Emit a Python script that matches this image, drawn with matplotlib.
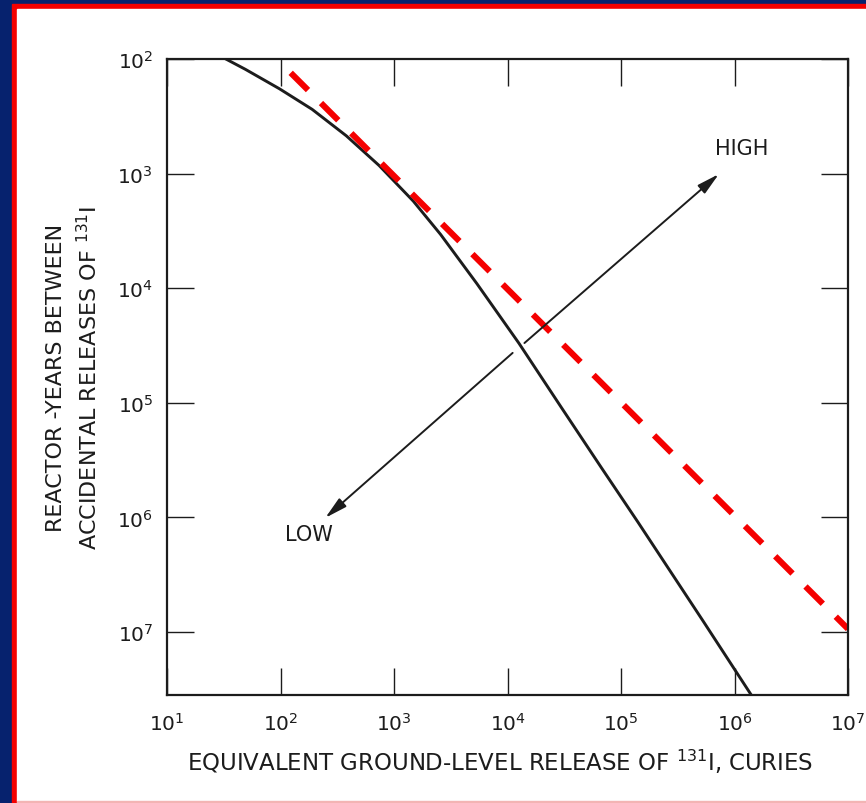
import matplotlib
matplotlib.use("Agg")
import matplotlib.pyplot as plt
from matplotlib.patches import Rectangle
from matplotlib.ticker import NullLocator

# frequency curve (curies released, reactor-years between releases)
release_ci = [33, 49, 98, 190, 380, 740, 1480, 2570, 5370, 12600, 30200,
              67600, 141000, 525000, 1450000]
reactor_years = [100, 123, 182, 275, 468, 851, 1740, 3390, 9120, 30200, 112000,
                 372000, 1100000, 7940000, 37200000]

# red dashed overlay line (end points)
dashed_ci = [123, 1.0e7]
dashed_years = [132, 9.4e6]

# LOW / HIGH arrows: tail and tip
low_tail = (11100, 36700)
low_tip = (248, 1.01e6)
high_tail = (14100, 30100)
high_tip = (728000, 1010)

xticks = [1e1, 1e2, 1e3, 1e4, 1e5, 1e6, 1e7]
yticks = [1e2, 1e3, 1e4, 1e5, 1e6, 1e7]

W, H = 866, 804
ink = "#1c1c1c"

fig = plt.figure(figsize=(W / 100, H / 100), dpi=100, facecolor="#06226e")

# slide frame: red border, white page
fig.patches.append(Rectangle((12 / W, 0), (W - 12) / W, (H - 5) / H,
                             transform=fig.transFigure, color="#f40000", zorder=-3))
fig.patches.append(Rectangle((17 / W, 2 / H), (W - 17) / W, (802 - 10) / H,
                             transform=fig.transFigure, color="white", zorder=-2))
fig.patches.append(Rectangle((17 / W, 0), (W - 17) / W, 2 / H,
                             transform=fig.transFigure, color="#f3b4b4", zorder=-2))

ax = fig.add_axes([167 / W, 1 - 696 / H, (848 - 167) / W, (696 - 60) / H])
ax.set_facecolor("none")
ax.set_xscale("log")
ax.set_yscale("log")
ax.set_xlim(1e1, 1e7)
ax.set_ylim(10 ** 7.55, 1e2)

ax.plot(release_ci, reactor_years, color=ink, lw=2.1, solid_joinstyle="round")
ax.plot(dashed_ci, dashed_years, color="#f40000", lw=4.4, dashes=(4, 3),
        dash_capstyle="butt")

arrow = dict(arrowstyle="-|>,head_length=0.9,head_width=0.22", color=ink,
             lw=1.4, shrinkA=0, shrinkB=0, mutation_scale=15)
ax.annotate("", xy=low_tip, xytext=low_tail, arrowprops=arrow)
ax.annotate("", xy=high_tip, xytext=high_tail, arrowprops=arrow)
ax.text(1.15e6, 600, "HIGH", fontsize=15, color=ink, ha="center", va="center")
ax.text(177, 1.4e6, "LOW", fontsize=15, color=ink, ha="center", va="center")

ax.set_xticks(xticks)
ax.set_yticks(yticks)
ax.xaxis.set_minor_locator(NullLocator())
ax.yaxis.set_minor_locator(NullLocator())
ax.tick_params(which="major", direction="in", length=19.5, width=1.0,
               top=True, right=True, labelsize=14.5, colors=ink)
ax.tick_params(axis="x", pad=12)
ax.tick_params(axis="y", pad=10)
for s in ax.spines.values():
    s.set_linewidth(1.6)
    s.set_color(ink)

ax.set_xlabel("EQUIVALENT GROUND-LEVEL RELEASE OF $^{131}$I, CURIES",
              fontsize=16.5, color=ink, va="center")
ax.xaxis.set_label_coords(0.489, -0.104)
ax.set_ylabel("REACTOR -YEARS BETWEEN\nACCIDENTAL RELEASES OF $^{131}$I",
              fontsize=16, color=ink, va="center", linespacing=1.45)
ax.yaxis.set_label_coords(-0.137, 0.5)

plt.savefig("out.png", dpi=100, facecolor=fig.get_facecolor())
